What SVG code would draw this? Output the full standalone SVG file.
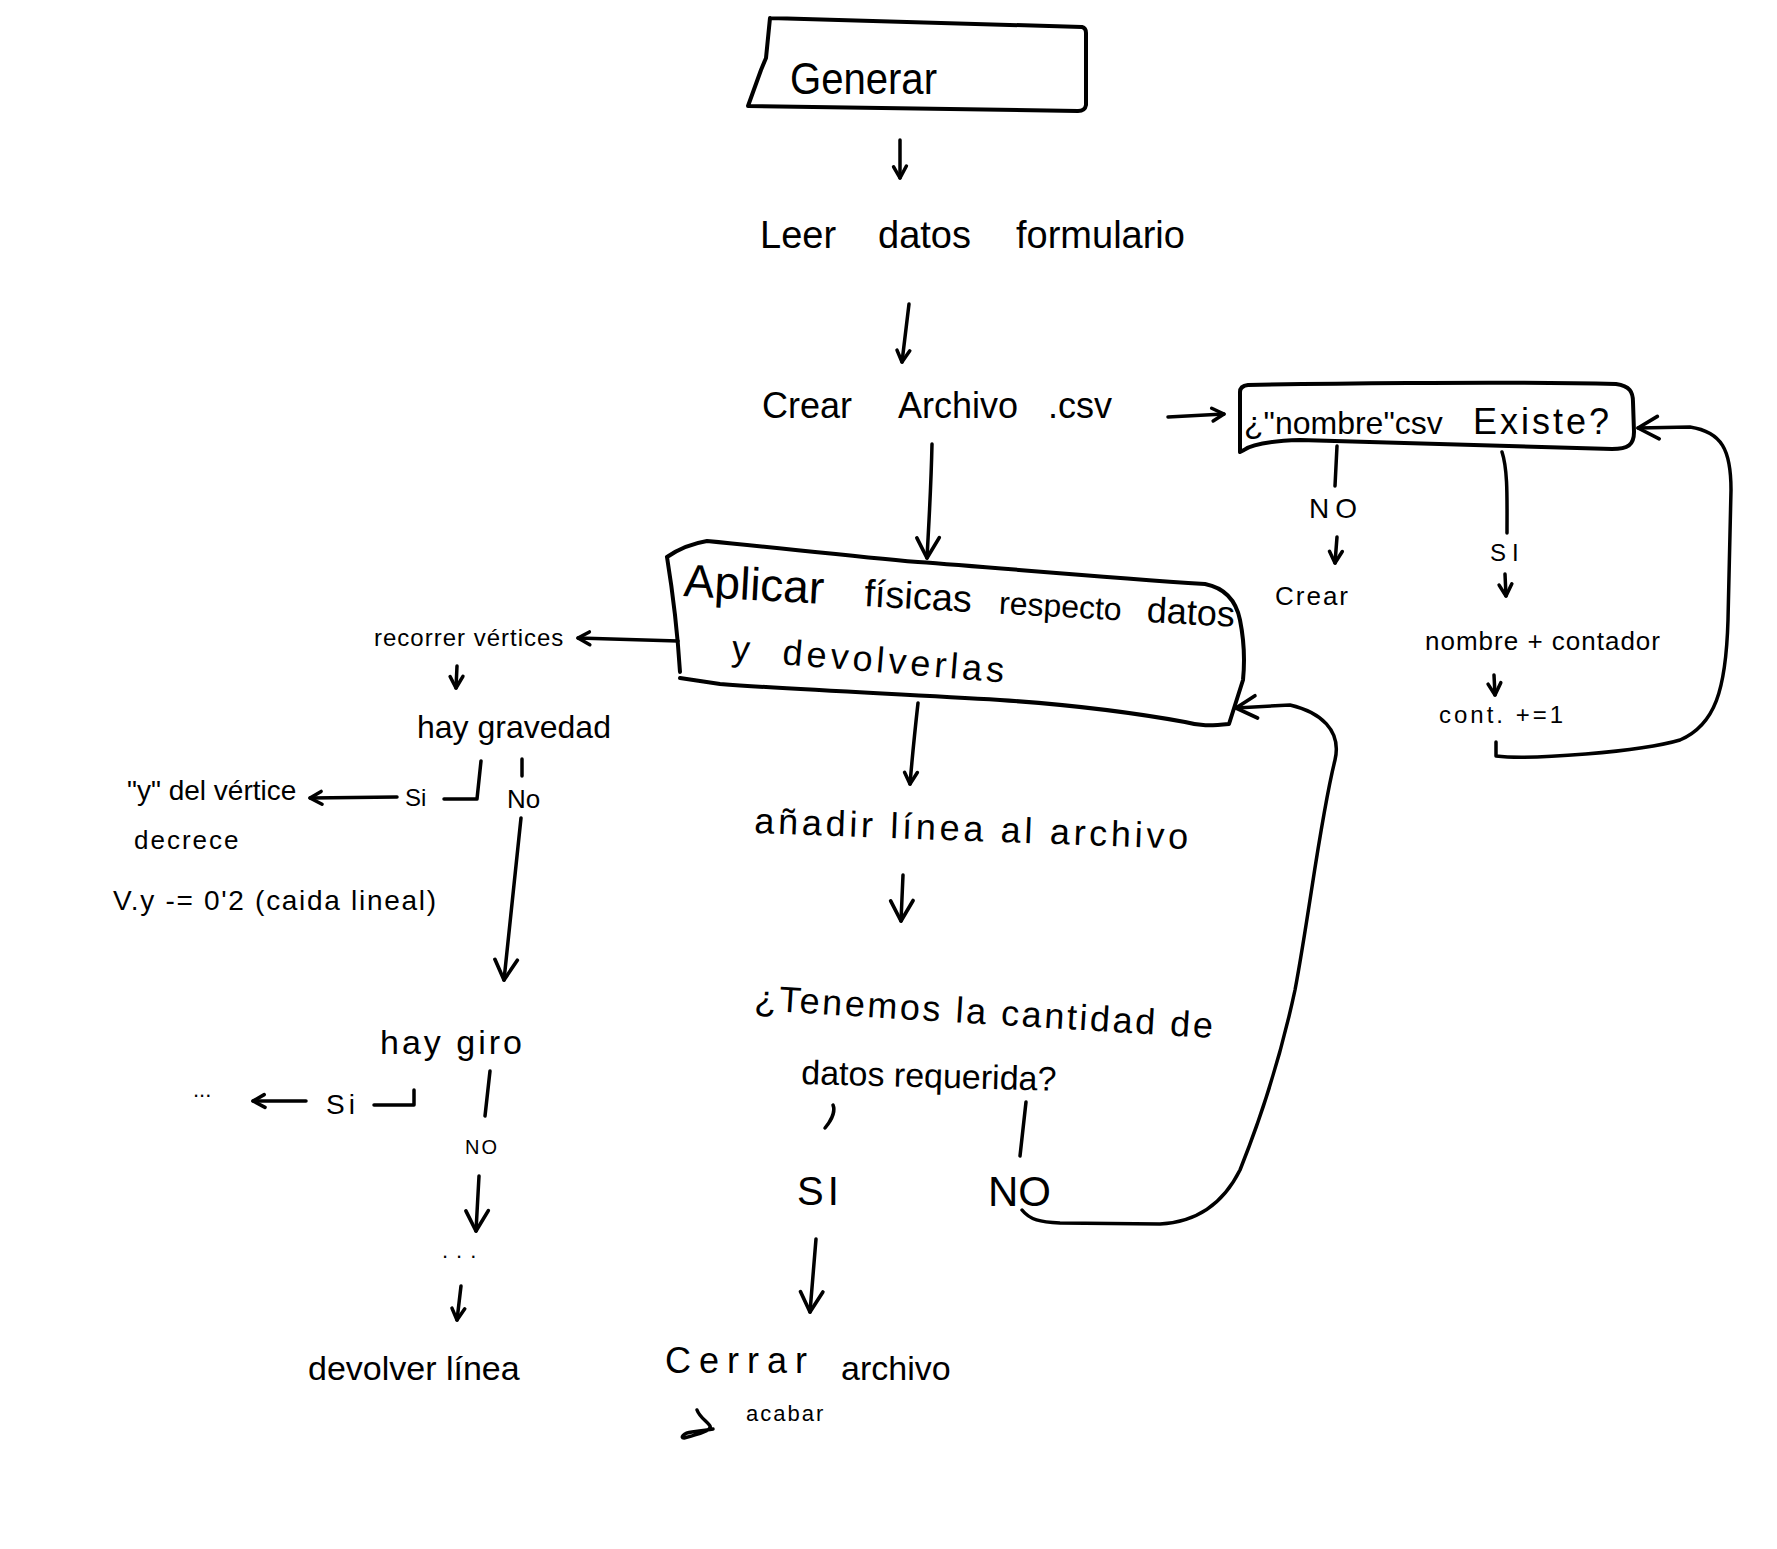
<svg xmlns="http://www.w3.org/2000/svg" width="1777" height="1549" viewBox="0 0 1777 1549">
  <style>
    .ln{fill:none;stroke:#000;stroke-width:3.5;stroke-linecap:round;stroke-linejoin:round}
    .box{fill:none;stroke:#000;stroke-width:4;stroke-linecap:round;stroke-linejoin:round}
    text{font-family:"Liberation Sans","DejaVu Sans",sans-serif;fill:#000}
  </style>
  <defs>
    <!-- open, hand-drawn style arrowheads -->
    <marker id="ah" viewBox="0 0 20 20" refX="18" refY="10" markerWidth="16" markerHeight="16" markerUnits="userSpaceOnUse" orient="auto" overflow="visible">
      <path d="M3,2 L18,10 L4,18" fill="none" stroke="#000" stroke-width="4.4" stroke-linecap="round" stroke-linejoin="round"/>
    </marker>
    <marker id="ahL" viewBox="0 0 20 20" refX="18" refY="10" markerWidth="28" markerHeight="28" markerUnits="userSpaceOnUse" orient="auto" overflow="visible">
      <path d="M3,2 L18,10 L4,18" fill="none" stroke="#000" stroke-width="2.6" stroke-linecap="round" stroke-linejoin="round"/>
    </marker>
  </defs>
  <rect width="1777" height="1549" fill="#fff"/>

  <!-- connectors -->
  <g id="connectors">
    <path class="ln" d="M900,140 L900,178" marker-end="url(#ah)"/>
    <path class="ln" d="M909,304 L902,362" marker-end="url(#ah)"/>
    <path class="ln" d="M932,444 C931,490 929,520 927,558" marker-end="url(#ahL)"/>
    <path class="ln" d="M1168,417 L1224,414" marker-end="url(#ah)"/>
    <path class="ln" d="M1337,446 L1335,486"/>
    <path class="ln" d="M1337,537 L1335,563" marker-end="url(#ah)"/>
    <path class="ln" d="M1502,452 C1508,470 1507,500 1507,533"/>
    <path class="ln" d="M1505,574 L1506,596" marker-end="url(#ah)"/>
    <path class="ln" d="M1494,675 L1495,695" marker-end="url(#ah)"/>
    <path class="ln" d="M1496,742 L1496,756 C1530,760 1640,752 1680,740 C1715,725 1726,690 1728,620 L1731,490 C1731,450 1722,432 1690,427 L1638,428" marker-end="url(#ahL)"/>
    <path class="ln" d="M678,641 L578,638" marker-end="url(#ah)"/>
    <path class="ln" d="M457,666 L456,688" marker-end="url(#ah)"/>
    <path class="ln" d="M481,761 L477,799 L444,799"/>
    <path class="ln" d="M397,797 L310,798" marker-end="url(#ah)"/>
    <path class="ln" d="M522,759 L522,776"/>
    <path class="ln" d="M521,818 L504,980" marker-end="url(#ahL)"/>
    <path class="ln" d="M414,1090 L414,1105 L374,1105"/>
    <path class="ln" d="M306,1101 L253,1101" marker-end="url(#ah)"/>
    <path class="ln" d="M490,1071 L485,1116"/>
    <path class="ln" d="M479,1176 L476,1231" marker-end="url(#ahL)"/>
    <path class="ln" d="M461,1286 L457,1320" marker-end="url(#ah)"/>
    <path class="ln" d="M918,703 C915,730 912,760 910,784" marker-end="url(#ah)"/>
    <path class="ln" d="M903,875 L901,921" marker-end="url(#ahL)"/>
    <path class="ln" d="M833,1105 C836,1112 830,1122 825,1128"/>
    <path class="ln" d="M1026,1102 L1020,1156"/>
    <path class="ln" d="M1022,1210 C1030,1220 1040,1222 1060,1223 L1160,1224 C1200,1222 1225,1200 1240,1170 C1260,1120 1280,1060 1295,990 C1310,910 1320,820 1335,760 C1342,730 1320,712 1290,705 L1236,708" marker-end="url(#ahL)"/>
    <path class="ln" d="M816,1239 L810,1312" marker-end="url(#ahL)"/>
  </g>

  <!-- start -->
  <g id="generar">
    <path class="box" d="M770,18 L1082,27 Q1086,28 1086,33 L1086,105 Q1085,111 1078,111 L748,106 L761,70 L766,58 L770,18"/>
    <text x="790" y="94" font-size="44" textLength="147" lengthAdjust="spacingAndGlyphs">Generar</text>
  </g>

  <g id="leer">
    <text y="248" font-size="38"><tspan x="760">Leer</tspan> <tspan x="878">datos</tspan> <tspan x="1016">formulario</tspan></text>
  </g>

  <g id="crear-archivo">
    <text y="418" font-size="36"><tspan x="762">Crear</tspan> <tspan x="898">Archivo</tspan> <tspan x="1048">.csv</tspan></text>
  </g>

  <g id="existe">
    <path class="box" d="M1240,392 Q1240,386 1248,385 C1300,384 1500,381 1616,384 C1630,386 1633,392 1633,402 L1634,432 C1634,445 1628,449 1612,449 L1300,440 C1270,441 1252,444 1244,450 L1240,452 L1240,392"/>
    <text y="434" font-size="32"><tspan x="1244">¿"nombre"csv</tspan> <tspan x="1473" font-size="36" letter-spacing="3">Existe?</tspan></text>
  </g>

  <g id="existe-no">
    <text x="1309" y="518" font-size="28" letter-spacing="6">NO</text>
  </g>
  <g id="crear-nuevo">
    <text x="1275" y="605" font-size="26" letter-spacing="2">Crear</text>
  </g>
  <g id="existe-si">
    <text x="1490" y="561" font-size="24" letter-spacing="6">SI</text>
  </g>
  <g id="nombre-contador">
    <text x="1425" y="650" font-size="26" letter-spacing="1">nombre + contador</text>
  </g>
  <g id="contador">
    <text x="1439" y="723" font-size="24" letter-spacing="3">cont. +=1</text>
  </g>

  <g id="aplicar">
    <path class="box" d="M667,557 C680,548 695,543 707,541 C780,548 850,556 918,562 C1000,568 1100,577 1205,584 C1225,588 1236,600 1240,620 C1244,640 1245,660 1243,680 L1229,724 C1210,726 1200,726 1185,722 C1130,712 1060,704 1000,700 C900,694 800,690 720,684 L680,678 M680,672 C678,640 674,600 667,557"/>
    <text y="596" font-size="38" transform="rotate(3.2 683 596)"><tspan x="683" font-size="46">Aplicar</tspan> <tspan x="864">físicas</tspan> <tspan x="999" font-size="32">respecto</tspan> <tspan x="1147" font-size="36">datos</tspan></text>
    <text y="660" font-size="36" transform="rotate(4.7 731 660)"><tspan x="731">y</tspan> <tspan x="782" letter-spacing="4">devolverlas</tspan></text>
  </g>

  <g id="recorrer">
    <text x="374" y="646" font-size="24" letter-spacing="1">recorrer vértices</text>
  </g>
  <g id="gravedad">
    <text x="417" y="738" font-size="32">hay gravedad</text>
  </g>
  <g id="gravedad-si">
    <text x="405" y="806" font-size="24">Si</text>
  </g>
  <g id="gravedad-no">
    <text x="507" y="808" font-size="26">No</text>
  </g>
  <g id="decrece">
    <text x="127" y="800" font-size="28">"y" del vértice</text>
    <text x="134" y="849" font-size="26" letter-spacing="2">decrece</text>
    <text x="113" y="910" font-size="28" textLength="323" lengthAdjust="spacing">V.y -= 0'2 (caida lineal)</text>
  </g>
  <g id="giro">
    <text x="380" y="1054" font-size="34" letter-spacing="3">hay giro</text>
  </g>
  <g id="giro-si">
    <text x="326" y="1114" font-size="28" letter-spacing="4">Si</text>
  </g>
  <g id="giro-si-sigue">
    <text x="193" y="1097" font-size="22">...</text>
  </g>
  <g id="giro-no">
    <text x="465" y="1154" font-size="20" letter-spacing="2">NO</text>
  </g>
  <g id="sigue">
    <text x="442" y="1258" font-size="22" letter-spacing="8">...</text>
  </g>
  <g id="devolver">
    <text x="308" y="1380" font-size="34">devolver línea</text>
  </g>

  <g id="anadir">
    <text x="754" y="833" font-size="36" textLength="434" lengthAdjust="spacing" transform="rotate(2.1 754 833)">añadir línea al archivo</text>
  </g>

  <g id="tenemos">
    <text x="754" y="1010" font-size="36" textLength="459" lengthAdjust="spacing" transform="rotate(3.5 754 1010)">¿Tenemos la cantidad de</text>
    <text x="801" y="1084" font-size="34" transform="rotate(1.5 801 1084)">datos requerida?</text>
  </g>
  <g id="tenemos-si">
    <text x="797" y="1205" font-size="40" letter-spacing="4">SI</text>
  </g>
  <g id="tenemos-no">
    <text x="988" y="1206" font-size="42">NO</text>
  </g>

  <g id="cerrar">
    <text y="1373" font-size="36"><tspan x="665" letter-spacing="8">Cerrar</tspan> <tspan x="841" y="1380" font-size="34">archivo</tspan></text>
    <path class="ln" d="M697,1410 C700,1418 708,1422 710,1426 C712,1430 700,1434 684,1438 C680,1438 683,1433 692,1432 C700,1431 708,1430 713,1429"/>
    <text x="746" y="1421" font-size="22" letter-spacing="2">acabar</text>
  </g>
</svg>
